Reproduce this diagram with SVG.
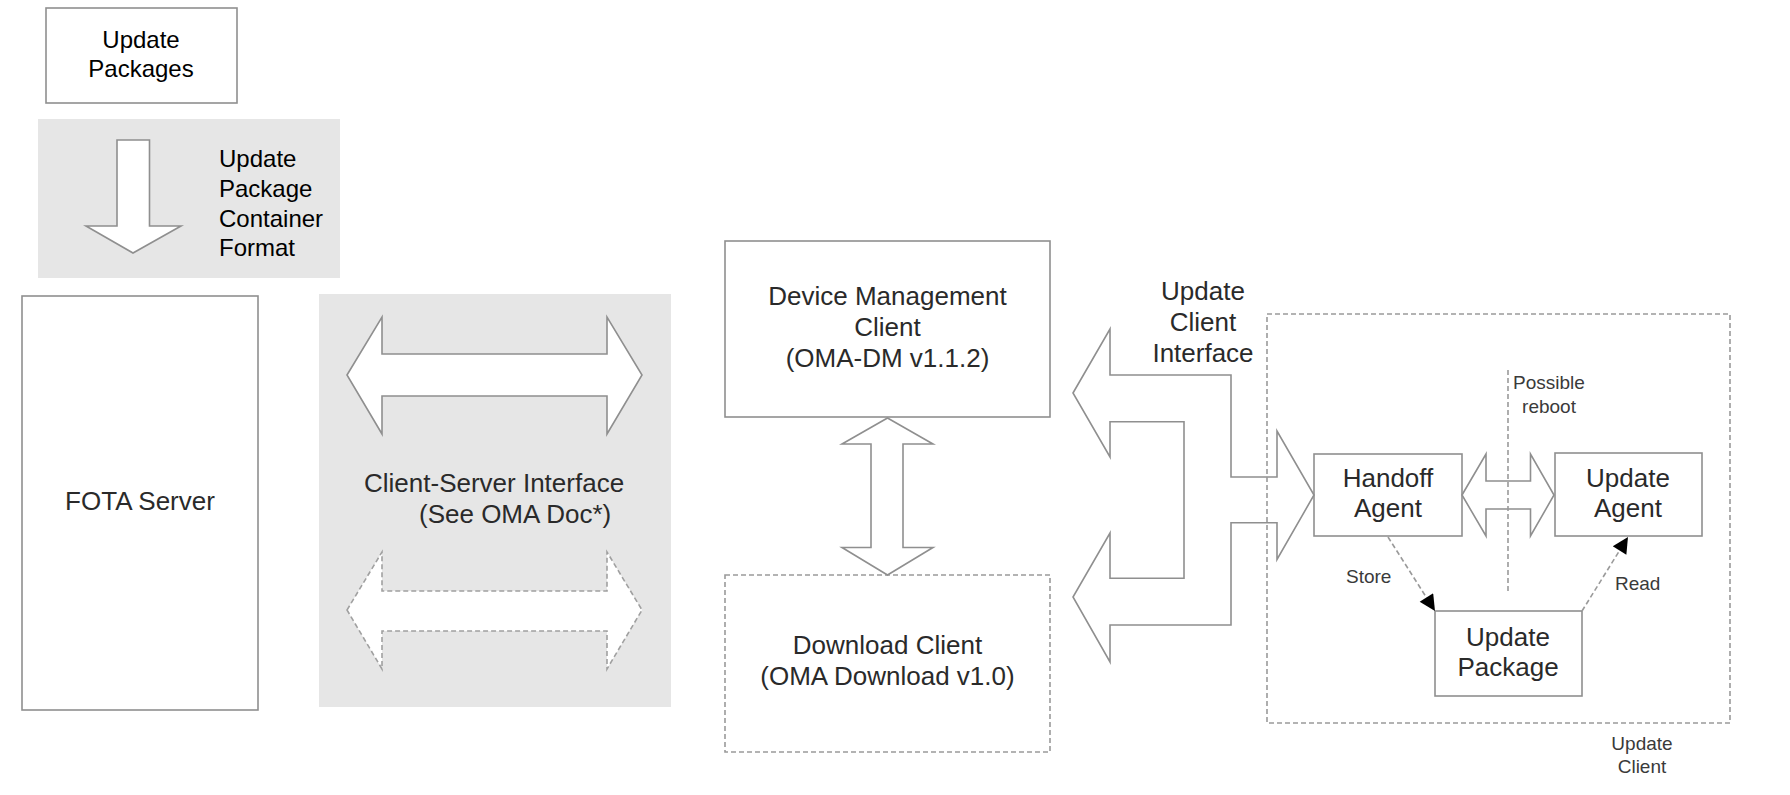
<svg xmlns="http://www.w3.org/2000/svg" width="1790" height="795" viewBox="0 0 1790 795">
<style>
  .bg { fill: #ffffff; }
  .panel { fill: #e6e6e6; stroke: none; }
  .box { fill: #ffffff; stroke: #8f8f8f; stroke-width: 1.6; }
  .dbox { fill: none; stroke: #9a9a9a; stroke-width: 1.6; stroke-dasharray: 5 3; }
  .dboxw { fill: #ffffff; stroke: #9a9a9a; stroke-width: 1.6; stroke-dasharray: 5 3; }
  .arrow { fill: #ffffff; stroke: #8f8f8f; stroke-width: 1.6; stroke-linejoin: miter; }
  .darrow { fill: #ffffff; stroke: #a0a0a0; stroke-width: 1.6; stroke-dasharray: 5 3; }
  .dline { fill: none; stroke: #9a9a9a; stroke-width: 1.6; stroke-dasharray: 5 3; }
  .t { font-family: "Liberation Sans", Arial, sans-serif; fill: #2a2a2a; }
  .t24 { font-size: 24px; fill: #000000; }
  .t26 { font-size: 26px; }
  .t19 { font-size: 19px; fill: #3a3a3a; }
  .mid { text-anchor: middle; }
</style>
<defs>
  <marker id="ah" viewBox="0 0 10 10" refX="10" refY="5" markerWidth="20" markerHeight="16" markerUnits="userSpaceOnUse" orient="auto">
    <path d="M0,0 L10,5 L0,10 Z" fill="#000000"/>
  </marker>
</defs>
<rect class="bg" x="0" y="0" width="1790" height="795"/>

<g id="update-packages">
  <rect class="box" x="46" y="8" width="191" height="95"/>
  <text class="t t24 mid" x="141" y="48">Update</text>
  <text class="t t24 mid" x="141" y="77">Packages</text>
</g>

<g id="container-format">
  <rect class="panel" x="38" y="119" width="302" height="159"/>
  <polygon class="arrow" points="117,140 149.5,140 149.5,226 181,226 133,253 86,226 117,226"/>
  <text class="t t24" x="219" y="167">Update</text>
  <text class="t t24" x="219" y="197">Package</text>
  <text class="t t24" x="219" y="227">Container</text>
  <text class="t t24" x="219" y="256">Format</text>
</g>

<g id="fota-server">
  <rect class="box" x="22" y="296" width="236" height="414"/>
  <text class="t t26 mid" x="140" y="510">FOTA Server</text>
</g>

<g id="client-server-interface">
  <rect class="panel" x="319" y="294" width="352" height="413"/>
  <text class="t t26" x="364" y="492">Client-Server Interface</text>
  <text class="t t26" x="419" y="523">(See OMA Doc*)</text>
</g>

<g id="dm-client">
  <rect class="box" x="725" y="241" width="325" height="176"/>
  <text class="t t26 mid" x="887.5" y="305">Device Management</text>
  <text class="t t26 mid" x="887.5" y="336">Client</text>
  <text class="t t26 mid" x="887.5" y="367">(OMA-DM v1.1.2)</text>
</g>

<g id="download-client">
  <rect class="dbox" x="725" y="575" width="325" height="177"/>
  <text class="t t26 mid" x="887.5" y="654">Download Client</text>
  <text class="t t26 mid" x="887.5" y="685">(OMA Download v1.0)</text>
</g>

<g id="update-client">
  <text class="t t26 mid" x="1203" y="300">Update</text>
  <text class="t t26 mid" x="1203" y="331">Client</text>
  <text class="t t26 mid" x="1203" y="362">Interface</text>
  <text class="t t19 mid" x="1549" y="389">Possible</text>
  <text class="t t19 mid" x="1549" y="413">reboot</text>
  <text class="t t19 mid" x="1642" y="750">Update</text>
  <text class="t t19 mid" x="1642" y="773">Client</text>
</g>

<g id="handoff-agent">
  <rect class="box" x="1314" y="454" width="148" height="82"/>
  <text class="t t26 mid" x="1388" y="487">Handoff</text>
  <text class="t t26 mid" x="1388" y="517">Agent</text>
</g>

<g id="update-agent">
  <rect class="box" x="1555" y="453" width="147" height="83"/>
  <text class="t t26 mid" x="1628" y="487">Update</text>
  <text class="t t26 mid" x="1628" y="517">Agent</text>
</g>

<g id="update-package">
  <rect class="box" x="1435" y="611" width="147" height="85"/>
  <text class="t t26 mid" x="1508" y="646">Update</text>
  <text class="t t26 mid" x="1508" y="676">Package</text>
</g>

<g id="connectors">
  <polygon class="arrow" points="347,375 382,317 382,354 607,354 607,317 642,375 607,434 607,396 382,396 382,434"/>
  <polygon class="darrow" points="347,610 382,552 382,591 607,591 607,552 642,610 607,669 607,631 382,631 382,669"/>
  <polygon class="arrow" points="887.5,418 933,444 903,444 903,547.5 933,547.5 887.5,575 842,547.5 871,547.5 871,444 842,444"/>
  <polygon class="arrow" points="1073,393 1110,329 1110,375 1231,375 1231,477 1277,477 1277,431 1314,495 1277,559.5 1277,522.7 1231,522.7 1231,625 1110,625 1110,662 1073,597 1110,533 1110,578.3 1184,578.3 1184,421.7 1110,421.7 1110,457"/>
  <polygon class="arrow" points="1462,495 1486,454 1486,481 1530.5,481 1530.5,454 1554,495 1530.5,536 1530.5,509 1486,509 1486,536"/>
  <line class="dline" x1="1508" y1="370" x2="1508" y2="593"/>
  <line class="dline" x1="1388" y1="537" x2="1435" y2="611" marker-end="url(#ah)"/>
  <line class="dline" x1="1582" y1="611" x2="1628" y2="537" marker-end="url(#ah)"/>
  <text class="t t19" x="1346" y="583">Store</text>
  <text class="t t19" x="1615" y="590">Read</text>
</g>

<rect class="dbox" x="1267" y="314" width="463" height="409"/>
</svg>
